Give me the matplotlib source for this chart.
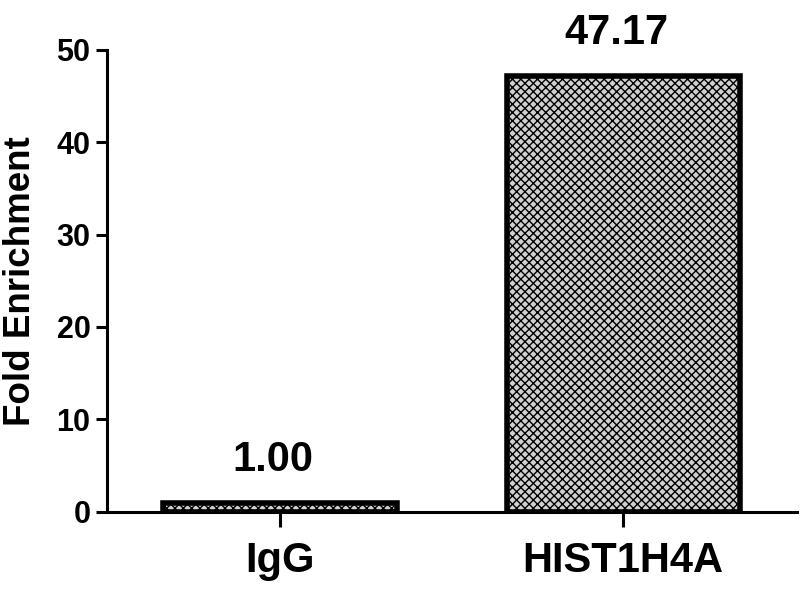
import matplotlib.pyplot as plt

plt.rcParams['font.family'] = ['Liberation Sans', 'DejaVu Sans']
plt.rcParams['font.weight'] = 'bold'
plt.rcParams['hatch.color'] = '#3a3a3a'
plt.rcParams['hatch.linewidth'] = 1.0

# data
categories = ['IgG', 'HIST1H4A']
values = [1.00, 47.17]
labels = ['1.00', '47.17']
yticks = [0, 10, 20, 30, 40, 50]

fig = plt.figure(figsize=(8, 6), dpi=100)
ax = fig.add_axes([0.134, 0.147, 0.8625, 0.77])

x = list(range(len(categories)))
bars = ax.bar(x, values, width=0.68, facecolor='#d0d0d0', edgecolor='black',
              linewidth=4, hatch='xxxx', zorder=2)

# value labels above bars
for b, lab in zip(bars, labels):
    ax.annotate(lab, xy=(b.get_x() + b.get_width() / 2, b.get_height()),
                xytext=(-5, 23), textcoords='offset points',
                ha='center', va='baseline', fontsize=30, fontweight='bold')

ax.set_xlim(-0.504, 1.507)
ax.set_ylim(0, 50)
ax.set_xticks(x)
ax.set_xticklabels(categories, fontsize=30, fontweight='bold')
ax.set_yticks(yticks)
ax.set_yticklabels([str(t) for t in yticks], fontsize=22, fontweight='bold')
ax.set_ylabel('Fold Enrichment', fontsize=26.5, fontweight='bold', labelpad=13)

for side in ['top', 'right']:
    ax.spines[side].set_visible(False)
for side in ['left', 'bottom']:
    ax.spines[side].set_linewidth(2.2)
ax.tick_params(axis='y', length=8, width=2.2, pad=4)
ax.tick_params(axis='x', length=11, width=2.2, pad=10)

plt.savefig('out.png', dpi=100)
plt.close()
